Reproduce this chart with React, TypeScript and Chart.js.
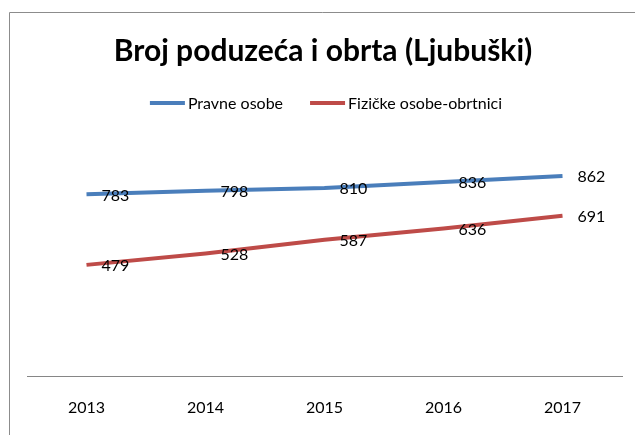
import React, { useEffect, useRef } from "react";
import { Chart, registerables } from "chart.js";

Chart.register(...registerables);

const TITLE = "Broj poduzeća i obrta (Ljubuški)";
const YEARS = ["2013", "2014", "2015", "2016", "2017"];
const PRAVNE_LABEL = "Pravne osobe";
const PRAVNE = [783, 798, 810, 836, 862];
const FIZICKE_LABEL = "Fizičke osobe-obrtnici";
const FIZICKE = [479, 528, 587, 636, 691];
const Y_MIN = 0;
const Y_MAX = 1000;

const BLUE = "#4a7ebb";
const RED = "#be4b48";
const FONT = "Lato, 'Open Sans', sans-serif";
const W = 635;
const H = 435;

const framePlugin = {
  id: "frame",
  beforeDraw(chart: any) {
    const ctx = chart.ctx;
    ctx.save();
    ctx.fillStyle = "#ffffff";
    ctx.fillRect(0, 0, chart.width, chart.height);
    ctx.strokeStyle = "#8c8c8c";
    ctx.lineWidth = 1;
    ctx.beginPath();
    ctx.moveTo(9.5, chart.height);
    ctx.lineTo(9.5, 12.5);
    ctx.lineTo(chart.width, 12.5);
    ctx.stroke();
    ctx.restore();
  },
};

const headerPlugin = {
  id: "header",
  afterDraw(chart: any) {
    const ctx = chart.ctx;
    ctx.save();
    // title
    ctx.fillStyle = "#000000";
    ctx.font = `bold 30px ${FONT}`;
    ctx.textAlign = "center";
    ctx.textBaseline = "middle";
    ctx.fillText(TITLE, 323, 51);
    // legend
    ctx.font = `16px ${FONT}`;
    const lineLen = 35;
    const gap = 3;
    const spacing = 27;
    const items = chart.data.datasets.map((d: any) => ({
      label: d.label,
      color: d.borderColor,
      w: ctx.measureText(d.label).width,
    }));
    let total = 0;
    items.forEach((it: any, i: number) => {
      total += lineLen + gap + it.w + (i > 0 ? spacing : 0);
    });
    let x = 326 - total / 2;
    const y = 103;
    ctx.textAlign = "left";
    items.forEach((it: any) => {
      ctx.strokeStyle = it.color;
      ctx.lineWidth = 4;
      ctx.beginPath();
      ctx.moveTo(x, y);
      ctx.lineTo(x + lineLen, y);
      ctx.stroke();
      ctx.fillStyle = "#000000";
      ctx.fillText(it.label, x + lineLen + gap, y + 1);
      x += lineLen + gap + it.w + spacing;
    });
    ctx.restore();
  },
};

const valueLabelPlugin = {
  id: "valueLabels",
  afterDatasetsDraw(chart: any) {
    const ctx = chart.ctx;
    ctx.save();
    ctx.font = `16px ${FONT}`;
    ctx.fillStyle = "#000000";
    ctx.textAlign = "left";
    ctx.textBaseline = "middle";
    chart.data.datasets.forEach((ds: any, di: number) => {
      const meta = chart.getDatasetMeta(di);
      meta.data.forEach((pt: any, i: number) => {
        ctx.fillText(String(ds.data[i]), pt.x + 15, pt.y + 1);
      });
    });
    ctx.restore();
  },
};

export default function App() {
  const ref = useRef<HTMLCanvasElement | null>(null);
  useEffect(() => {
    if (!ref.current) return;
    const chart = new Chart(ref.current, {
      type: "line",
      data: {
        labels: YEARS,
        datasets: [
          {
            label: PRAVNE_LABEL,
            data: PRAVNE,
            borderColor: BLUE,
            backgroundColor: BLUE,
            borderWidth: 4,
            pointRadius: 0,
            tension: 0,
          },
          {
            label: FIZICKE_LABEL,
            data: FIZICKE,
            borderColor: RED,
            backgroundColor: RED,
            borderWidth: 4,
            pointRadius: 0,
            tension: 0,
          },
        ],
      },
      options: {
        responsive: false,
        animation: false,
        layout: { padding: { top: 144, left: 27, right: 13, bottom: 0 } },
        plugins: {
          legend: { display: false },
          title: { display: false },
          tooltip: { enabled: false },
        },
        scales: {
          x: {
            offset: true,
            grid: { display: false, drawTicks: false },
            border: { display: true, color: "#868686", width: 1 },
            ticks: {
              color: "#000000",
              padding: 22,
              font: { family: FONT, size: 16 },
            },
            afterFit: (scale: any) => {
              scale.height = 59;
            },
          },
          y: {
            display: false,
            min: Y_MIN,
            max: Y_MAX,
          },
        },
      },
      plugins: [framePlugin, headerPlugin, valueLabelPlugin],
    });
    return () => chart.destroy();
  }, []);
  return (
    <div style={{ position: "absolute", left: 0, top: 0, width: W, height: H }}>
      <canvas ref={ref} width={W} height={H} style={{ display: "block" }} />
    </div>
  );
}
